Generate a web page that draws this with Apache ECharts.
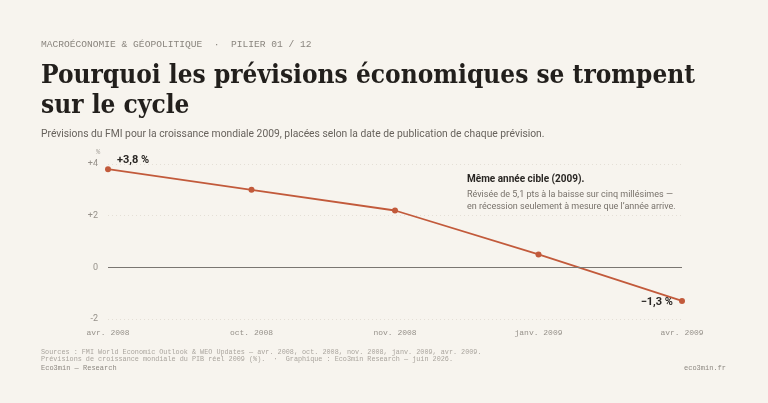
<!DOCTYPE html>
<html>
<head>
<meta charset="utf-8">
<script src="https://cdn.jsdelivr.net/npm/echarts@6/dist/echarts.min.js"></script>
<style>
  html, body { margin: 0; padding: 0; background: #f7f4ee; }
  #chart { width: 768px; height: 403px; }
</style>
</head>
<body>
<div id="chart"></div>
<script>
// data
var publications = ['avr. 2008', 'oct. 2008', 'nov. 2008', 'janv. 2009', 'avr. 2009'];
var forecast2009 = [3.8, 3.0, 2.2, 0.5, -1.3];
var yTicks = [-2, 0, 2, 4];

var MONO = '"Liberation Mono", "DejaVu Sans Mono", monospace';
var SANS = 'Roboto, "Noto Sans", sans-serif';
var SERIF = '"DejaVu Serif Condensed", "DejaVu Serif", serif';
var ACCENT = '#c25a3b';

function fmtPct(v) {
    var s = Math.abs(v).toFixed(1).replace('.', ',');
    return (v > 0 ? '+' : '\u2212') + s + ' %';
}

// first and last points get their own label
var points = forecast2009.map(function (v, i) {
    var p = { value: v };
    if (i === 0) {
        p.label = { show: true, position: 'right', offset: [1, -9] };
    } else if (i === forecast2009.length - 1) {
        p.label = { show: true, position: 'left', offset: [-1, 1] };
    }
    return p;
});

var chart = echarts.init(document.getElementById('chart'));
chart.setOption({
    backgroundColor: '#f7f4ee',
    animation: false,
    title: [
        {
            text: 'MACROÉCONOMIE & GÉOPOLITIQUE  ·  PILIER 01 / 12',
            left: 41, top: 39, padding: 0,
            textStyle: { fontFamily: MONO, fontSize: 9.6, color: '#8a857e', fontWeight: 'normal' }
        },
        {
            text: 'Pourquoi les prévisions économiques se trompent\nsur le cycle',
            left: 41, top: 61, padding: 0,
            textStyle: { fontFamily: SERIF, fontSize: 26, lineHeight: 30, color: '#221f1c', fontWeight: 'bold' }
        },
        {
            text: 'Prévisions du FMI pour la croissance mondiale 2009, placées selon la date de publication de chaque prévision.',
            left: 41, top: 129.5, padding: 0,
            textStyle: { fontFamily: SANS, fontSize: 10.3, color: '#67625c', fontWeight: 'normal' }
        },
        {
            text: 'Sources : FMI World Economic Outlook & WEO Updates — avr. 2008, oct. 2008, nov. 2008, janv. 2009, avr. 2009.\nPrévisions de croissance mondiale du PIB réel 2009 (%).  ·  Graphique : Eco3min Research — juin 2026.',
            left: 41, top: 348, padding: 0,
            textStyle: { fontFamily: MONO, fontSize: 6.8, lineHeight: 7.5, color: '#aaa59e', fontWeight: 'normal' }
        },
        {
            text: 'Eco3min — Research',
            left: 41, top: 364.5, padding: 0,
            textStyle: { fontFamily: MONO, fontSize: 7, color: '#8c8780', fontWeight: 'normal' }
        },
        {
            text: 'eco3min.fr',
            right: 42, top: 364.5, padding: 0,
            textStyle: { fontFamily: MONO, fontSize: 7, color: '#8c8780', fontWeight: 'normal' }
        }
    ],
    graphic: [
        {
            type: 'text', left: 96, top: 149,
            style: { text: '%', font: '7px ' + MONO, fill: '#aaa59e' }
        },
        {
            type: 'text', left: 467, top: 174.5,
            style: { text: 'Même année cible (2009).', font: 'bold 10px ' + SANS, fill: '#2a2724' }
        },
        {
            type: 'text', left: 467, top: 189,
            style: {
                text: 'Révisée de 5,1 pts à la baisse sur cinq millésimes —\nen récession seulement à mesure que l\u2019année arrive.',
                font: '9px ' + SANS, lineHeight: 11.5, fill: '#77716a'
            }
        }
    ],
    grid: { left: 108, right: 86, top: 164, bottom: 84 },
    xAxis: {
        type: 'category',
        data: publications,
        boundaryGap: false,
        axisLine: { show: false },
        axisTick: { show: false },
        axisLabel: { fontFamily: MONO, fontSize: 8, color: '#96918a', margin: 10 }
    },
    yAxis: {
        type: 'value',
        min: yTicks[0], max: yTicks[yTicks.length - 1], interval: 2,
        axisLine: { show: false },
        axisTick: { show: false },
        axisLabel: {
            fontFamily: SANS, fontSize: 9, color: '#96918a', margin: 10,
            formatter: function (v) { return v > 0 ? '+' + v : String(v); }
        },
        splitLine: { lineStyle: { color: '#e4dfd6', type: [1, 3], width: 1 } }
    },
    series: [{
        type: 'line',
        data: points,
        symbol: 'circle',
        symbolSize: 6,
        lineStyle: { color: ACCENT, width: 1.8 },
        itemStyle: { color: ACCENT },
        label: {
            show: false,
            fontFamily: SANS, fontSize: 11, fontWeight: 'bold', color: '#2a2724',
            formatter: function (p) { return fmtPct(p.value); }
        },
        markLine: {
            silent: true,
            symbol: 'none',
            label: { show: false },
            lineStyle: { color: '#7a7671', type: 'solid', width: 1 },
            data: [{ yAxis: 0 }]
        },
        z: 3
    }]
});
</script>
</body>
</html>
